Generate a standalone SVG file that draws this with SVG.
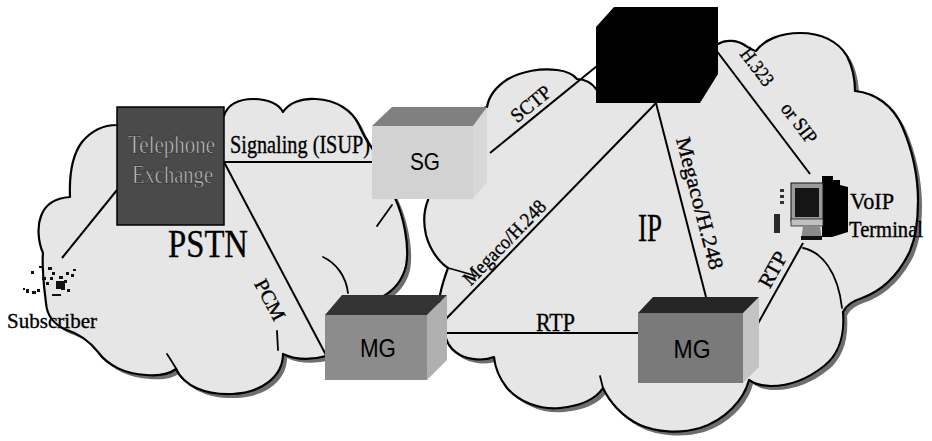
<svg xmlns="http://www.w3.org/2000/svg" xmlns:xlink="http://www.w3.org/1999/xlink" width="932" height="441" viewBox="0 0 932 441">
  <style>
    .cloud { fill: #e6e6e6; stroke: #000; stroke-width: 2.2; stroke-linejoin: round; }
    .shadow { fill: #6e6e6e; stroke: none; }
    .arc { fill: none; stroke: #000; stroke-width: 1.8; stroke-linecap: round; }
    .link { stroke: #000; stroke-width: 2; fill: none; }
    .serif { font-family: "Liberation Serif", "Times New Roman", serif; fill: #000; stroke: #000; stroke-width: 0.35; }
    .sans { font-family: "Liberation Sans", Arial, sans-serif; fill: #000; }
    .emboss { font-family: "Liberation Serif", "Times New Roman", serif; fill: #c4c4c4; stroke: #1a1a1a; stroke-width: 0.5; }
  </style>
  <defs>
    <path id="pstn-shape" d="M 200,112 L 224,116 C 227,105 238,99 253,99 C 268,99 279,104 283,112 C 289,103 301,98 316,99 C 336,100 352,110 359,125 C 362,132 366,140 372,148 L 395,198 C 403,215 410,245 406,266 C 402,282 393,291 382,297 L 350,330 L 326,356 C 312,360 296,360 283,354 C 283,376 262,393 232,394 C 205,395 184,386 176,369 C 168,375 158,376 146,375 C 126,374 108,366 98,352 C 90,342 80,334 67,330 C 54,325 47,316 46,303 L 44,286 C 43,272 42,262 43,253 C 38,242 37,226 41,216 C 45,205 55,198 70,197 C 69,172 73,154 82,142 C 92,130 104,125 117,125 Z"/>
    <path id="ip-shape" d="M 470,112 L 487,107 C 489,95 497,86 508,79 C 522,71 541,68 557,70 C 566,71 573,74 577,79 C 585,79 592,83 597,90 L 660,60 L 718,44 C 726,39 738,40 746,46 C 751,49 754,51 756,51 C 764,40 780,33 800,33 C 821,33 838,41 847,56 C 852,66 855,78 855,91 C 876,93 893,106 902,126 C 912,149 918,176 918,201 C 918,223 915,239 910,251 C 900,272 884,290 862,298 C 853,301 846,305 843,312 C 845,336 838,355 824,366 C 809,378 791,386 771,386 C 762,386 755,384 749,380 C 744,400 725,420 700,428 C 679,434 656,432 640,425 C 622,417 609,401 603,388 C 595,400 580,406 560,408 C 540,410 519,402 507,388 C 500,379 495,368 494,357 C 484,361 470,360 460,355 C 453,351 449,346 447,341 L 440,320 L 440,295 C 442,285 445,276 448,268 C 439,262 430,250 426,235 C 423,222 424,210 428,200 L 440,150 Z"/>
  </defs>

  <rect width="932" height="441" fill="#ffffff"/>

  <!-- network clouds with drop shadow -->
  <g id="clouds">
    <use xlink:href="#pstn-shape" class="shadow" transform="translate(4,4)"/>
    <use xlink:href="#ip-shape" class="shadow" transform="translate(4,4)"/>
    <use xlink:href="#pstn-shape" class="cloud"/>
    <use xlink:href="#ip-shape" class="cloud"/>
    <!-- inner scallop lines -->
    <path class="arc" d="M 323,257 C 336,263 346,276 348,293"/>
    <path class="arc" d="M 277,331 L 278,350"/>
    <path class="arc" d="M 167,354 C 171,360 174,365 177,370"/>
    <path class="arc" d="M 377,226 L 392,205"/>
    <path class="arc" d="M 448,268 C 456,270 466,273 476,276"/>
    <path class="arc" d="M 600,376 L 603,388"/>
    <path class="arc" d="M 803,248 C 822,252 838,272 842,308"/>
    <text class="serif" x="168" y="257" font-size="39" textLength="80" lengthAdjust="spacingAndGlyphs">PSTN</text>
    <text class="serif" x="638" y="241" font-size="39" textLength="24" lengthAdjust="spacingAndGlyphs">IP</text>
  </g>

  <!-- links and their labels -->
  <g id="connectors">
    <line class="link" x1="224" y1="162" x2="372" y2="162"/>
    <text class="serif" x="230" y="153" font-size="25" textLength="140" lengthAdjust="spacingAndGlyphs">Signaling (ISUP)</text>

    <line class="link" x1="117" y1="190" x2="62" y2="258"/>

    <line class="link" x1="224" y1="162" x2="326" y2="355"/>
    <text class="serif" font-size="20" text-anchor="middle" textLength="44" lengthAdjust="spacingAndGlyphs" transform="translate(264,303) rotate(62.1)">PCM</text>

    <line class="link" x1="490" y1="153" x2="597" y2="66"/>
    <text class="serif" font-size="20" text-anchor="middle" textLength="46" lengthAdjust="spacingAndGlyphs" transform="translate(535,109) rotate(-39.4)">SCTP</text>

    <line class="link" x1="656" y1="103" x2="443" y2="322"/>
    <text class="serif" font-size="20" text-anchor="middle" textLength="110" lengthAdjust="spacingAndGlyphs" transform="translate(509,247) rotate(-45.8)">Megaco/H.248</text>

    <line class="link" x1="656" y1="103" x2="706" y2="297"/>
    <text class="serif" font-size="21" text-anchor="middle" textLength="136" lengthAdjust="spacingAndGlyphs" transform="translate(693,205) rotate(75.5)">Megaco/H.248</text>

    <line class="link" x1="716" y1="50" x2="810" y2="174"/>
    <text class="serif" font-size="20" text-anchor="middle" textLength="42" lengthAdjust="spacingAndGlyphs" transform="translate(752,71) rotate(52.8)">H.323</text>
    <text class="serif" font-size="20" text-anchor="middle" textLength="46" lengthAdjust="spacingAndGlyphs" transform="translate(794,127) rotate(52.8)">or SIP</text>

    <line class="link" x1="803" y1="243" x2="756" y2="327"/>
    <text class="serif" font-size="21" text-anchor="middle" textLength="38" lengthAdjust="spacingAndGlyphs" transform="translate(779,273) rotate(-60.8)">RTP</text>

    <line class="link" x1="445" y1="333" x2="639" y2="333"/>
    <text class="serif" x="536" y="331" font-size="26" textLength="39" lengthAdjust="spacingAndGlyphs">RTP</text>
  </g>

  <!-- telephone exchange -->
  <g id="exchange">
    <rect x="117" y="107" width="107" height="118" fill="#4a4a4a" stroke="#000" stroke-width="1.5"/>
    <text class="emboss" x="128" y="153" font-size="26" textLength="87" lengthAdjust="spacingAndGlyphs">Telephone</text>
    <text class="emboss" x="132" y="183" font-size="25" textLength="81" lengthAdjust="spacingAndGlyphs">Exchange</text>
  </g>

  <!-- signalling gateway -->
  <g id="sg">
    <polygon points="473,127 487,107 487,182 473,199" fill="#d8d8d8"/>
    <polygon points="372,126 392,107 487,107 473,126" fill="#808080"/>
    <rect x="372" y="126" width="101" height="73" fill="#d2d2d2"/>
    <text class="sans" x="425" y="170" font-size="24" text-anchor="middle" textLength="30" lengthAdjust="spacingAndGlyphs">SG</text>
  </g>

  <!-- call agent -->
  <g id="callagent">
    <polygon points="596,27 614,7 718,7 718,74 700,103 596,103" fill="#000"/>
  </g>

  <!-- media gateway, PSTN side -->
  <g id="mg1">
    <polygon points="427,315 447,295 447,360 427,380" fill="#b0b0b0"/>
    <polygon points="325,315 342,295 447,295 427,315" fill="#333333"/>
    <rect x="325" y="315" width="102" height="65" fill="#8c8c8c"/>
    <text class="sans" x="378" y="357" font-size="25" text-anchor="middle" textLength="36" lengthAdjust="spacingAndGlyphs">MG</text>
  </g>

  <!-- media gateway, IP side -->
  <g id="mg2">
    <polygon points="743,313 759,297 759,367 743,383" fill="#c4c4c4"/>
    <polygon points="638,313 653,297 759,297 743,313" fill="#262626"/>
    <rect x="638" y="313" width="105" height="70" fill="#7a7a7a"/>
    <text class="sans" x="692" y="358" font-size="25" text-anchor="middle" textLength="37" lengthAdjust="spacingAndGlyphs">MG</text>
  </g>

  <!-- VoIP terminal -->
  <g id="terminal">
    <polygon points="822,176 833,176 833,180 840,180 840,185 848,187 848,232 832,237 822,237" fill="#000"/>
    <rect x="791" y="183" width="32" height="38" fill="#9a9a9a" stroke="#111" stroke-width="1"/>
    <rect x="795" y="188" width="24" height="29" fill="#151515"/>
    <rect x="791" y="219" width="32" height="7" fill="#c0c0c0" stroke="#222" stroke-width="0.8"/>
    <polygon points="803,226 820,226 822,240 801,240" fill="#8a8a8a"/>
    <rect x="801" y="236" width="21" height="4" fill="#111"/>
    <rect x="774" y="214" width="6" height="19" fill="#2a2a2a"/>
    <rect x="780" y="189" width="4" height="3" fill="#333"/>
    <rect x="780" y="195" width="4" height="3" fill="#333"/>
    <rect x="780" y="201" width="4" height="3" fill="#333"/>
    <text class="serif" x="850" y="209" font-size="24" textLength="44" lengthAdjust="spacingAndGlyphs">VoIP</text>
    <text class="serif" x="849" y="237" font-size="23" textLength="74" lengthAdjust="spacingAndGlyphs">Terminal</text>
  </g>

  <!-- subscriber handset -->
  <g id="subscriber" fill="#111">
    <rect x="31" y="271" width="3" height="3"/>
    <rect x="39" y="266" width="3" height="2"/>
    <rect x="48" y="267" width="4" height="3"/>
    <rect x="52" y="272" width="3" height="3"/>
    <rect x="59" y="276" width="4" height="3"/>
    <rect x="66" y="272" width="3" height="3"/>
    <rect x="71" y="274" width="3" height="3"/>
    <rect x="73" y="269" width="3" height="2"/>
    <rect x="42" y="277" width="4" height="3"/>
    <rect x="46" y="282" width="3" height="3"/>
    <rect x="56" y="281" width="9" height="8"/>
    <rect x="61" y="287" width="4" height="3"/>
    <rect x="26" y="289" width="3" height="4"/>
    <rect x="32" y="291" width="4" height="3"/>
    <rect x="37" y="289" width="3" height="3"/>
    <rect x="67" y="289" width="3" height="3"/>
    <rect x="52" y="294" width="9" height="2"/>
    <rect x="23" y="288" width="2" height="2"/>
    <rect x="50" y="277" width="3" height="3"/>
    <rect x="64" y="280" width="3" height="3"/>
    <text class="serif" x="7" y="328" font-size="22" textLength="90" lengthAdjust="spacingAndGlyphs">Subscriber</text>
  </g>
</svg>
